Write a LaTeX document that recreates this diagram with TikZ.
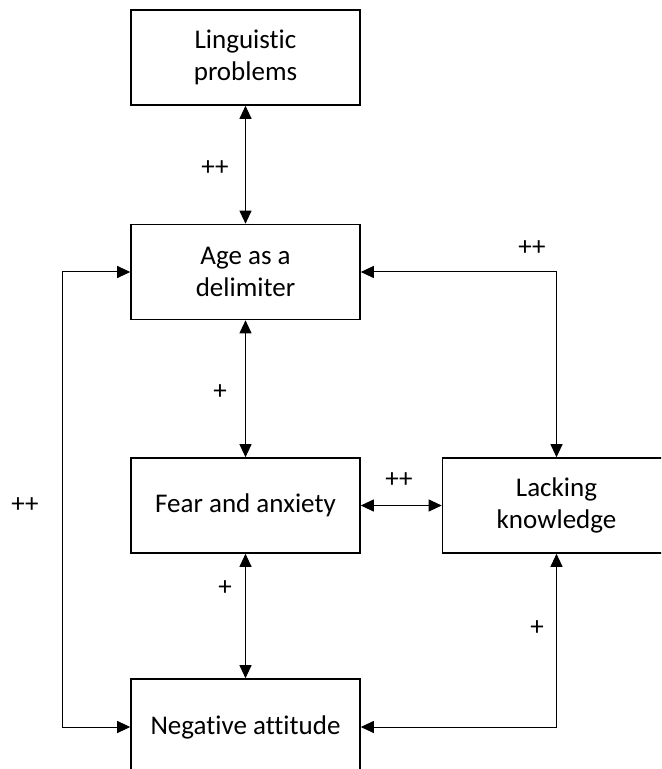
\documentclass[tikz,border=0pt]{standalone}
\usepackage{fontspec}
\setmainfont{Carlito}[Ligatures=CommonOff]
\usetikzlibrary{arrows.meta,positioning,calc}

\begin{document}
\begin{tikzpicture}[x=0.5pt, y=-0.5pt,
	every node/.style={font=\fontsize{13.5}{15.8}\selectfont, black},
	box/.style={draw, line width=0.8pt, align=center, inner sep=0pt, minimum width=114.5pt, minimum height=47.5pt},
	link/.style={line width=0.5pt, {Triangle[length=6.5pt, width=6pt]}-{Triangle[length=6.5pt, width=6pt]}},
	sign/.style={inner sep=0pt}]
			\useasboundingbox (0,0) rectangle (661,769);
			\clip (0,0) rectangle (661,769);
			
			\node[box] (ling) at (245.5, 57.5) {Linguistic\\problems};
			\node[box] (age) at (245.5, 272) {Age as a\\delimiter};
			\node[box] (fear) at (245.5, 505.5) {Fear and anxiety};
			\node[box, minimum width=114pt] (lack) at (556.5, 505.5) {Lacking\\knowledge};
			\node[box, minimum height=48pt] (neg) at (245.5, 727) {Negative attitude};
			
			\coordinate (leftbend) at (62, 272);
			
			\draw[link] (ling.south) -- (age.north);
%			
			\draw[link] (age.south) -- (fear.north);
%			
			\draw[link] (fear.south) -- (neg.north);
%			
			\draw[link] (fear.east) -- (lack.west);
%			
			\draw[link] (age.east) -| (lack.north);
%			
			\draw[link] (lack.south) |- (neg.east);
%			
			\draw[link] (age.west) -- (leftbend) |- (neg.west);
			
			\node[sign] (s1) at (215, 168) {++};
			\node[sign] (s2) at (220, 392) {+};
			\node[sign] (s3) at (225, 588) {+};
			\node[sign] (s4) at (399, 480) {++};
			\node[sign] (s5) at (532, 248) {++};
			\node[sign] (s6) at (25, 505) {++};
			\node[sign] (s7) at (537, 628) {+};
		\end{tikzpicture}
\end{document}
